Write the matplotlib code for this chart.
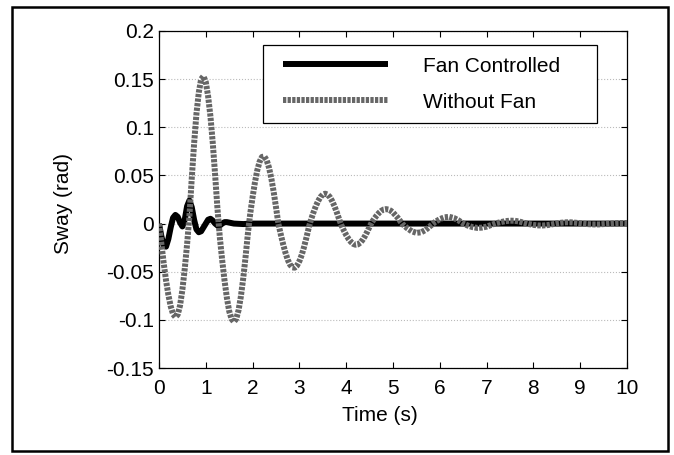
import numpy as np
import matplotlib
matplotlib.use("Agg")
import matplotlib.pyplot as plt
from matplotlib.patches import Rectangle
from matplotlib.lines import Line2D
from matplotlib.legend_handler import HandlerLine2D

plt.rcParams['font.family'] = ['Liberation Sans', 'DejaVu Sans']

# ---- data ----
t_fan = [0.00, 0.05, 0.10, 0.15, 0.20, 0.25, 0.30, 0.35, 0.40, 0.45,
         0.50, 0.55, 0.60, 0.65, 0.70, 0.75, 0.80, 0.85, 0.90, 0.95,
         1.00, 1.05, 1.10, 1.15, 1.20, 1.25, 1.30, 1.35, 1.40, 1.45,
         1.50, 1.60, 1.80, 2.00, 10.0]
sway_fan = [0.000, -0.013, -0.023, -0.024, -0.016, -0.004, 0.006, 0.009, 0.007, 0.001,
            -0.003, 0.004, 0.018, 0.024, 0.017, 0.004, -0.006, -0.009, -0.008, -0.004,
            0.000, 0.004, 0.005, 0.003, 0.000, -0.002, -0.002, 0.000, 0.0015, 0.0015,
            0.001, 0.000, -0.0005, 0.000, 0.000]

t_nofan = np.round(np.concatenate([np.arange(0, 101) * 0.05,
                                   5.0 + np.arange(1, 51) * 0.1]), 3)
sway_nofan = [
    0.0, -0.021, -0.041, -0.059, -0.074, -0.086, -0.094, -0.097,
    -0.0946, -0.085, -0.0686, -0.047, -0.0216, 0.008, 0.047, 0.083, 0.114, 0.136, 0.150, 0.153,
    0.147, 0.132, 0.111, 0.083, 0.050, 0.015, -0.0145, -0.038, -0.059, -0.077,
    -0.091, -0.099, -0.102, -0.099, -0.090, -0.0756, -0.0567, -0.0344, -0.010, 0.0106,
    0.0276, 0.0428, 0.0554, 0.0643, 0.0692, 0.0697, 0.0659, 0.0582, 0.047, 0.033,
    0.017, 0.0, -0.0108, -0.021, -0.030, -0.0375, -0.0427, -0.0455, -0.0458, -0.0436,
    -0.039, -0.0325, -0.0242, -0.0146, -0.0042, 0.0044, 0.0115, 0.018, 0.0234, 0.0276,
    0.0301, 0.031, 0.0301, 0.0276, 0.0234, 0.018, 0.0115, 0.0044, -0.0021, -0.0072,
    -0.0119, -0.0159, -0.019, -0.0211, -0.022, -0.0216, -0.0199, -0.017, -0.0131, -0.0084,
    -0.0032, 0.0015, 0.0051, 0.0083, 0.0111, 0.0132, 0.0146, 0.015, 0.0146, 0.0134,
    0.0115,
    0.0061, -0.0004, -0.0047, -0.008, -0.0096, -0.0091, -0.0065, -0.0024, 0.0017, 0.0046,
    0.0065, 0.007, 0.0058, 0.0033, 0.0, -0.0021, -0.0037, -0.0045, -0.0042, -0.0032,
    -0.0015, 0.0003, 0.0015, 0.0025, 0.003, 0.0029, 0.0021, 0.0008, -0.0005, -0.0014,
    -0.0019, -0.002, -0.0016, -0.0008, 0.0002, 0.0009, 0.0013, 0.0013, 0.0009, 0.0003,
    -0.0003, -0.0007, -0.0009, -0.0009, -0.0006, -0.0002, 0.0002, 0.0005, 0.0006, 0.0005]

x_ticks = list(range(0, 11))
y_ticks = [-0.15, -0.1, -0.05, 0, 0.05, 0.1, 0.15, 0.2]
y_tick_labels = ['-0.15', '-0.1', '-0.05', '0', '0.05', '0.1', '0.15', '0.2']
labels = ['Fan Controlled', 'Without Fan']

FS = 15

# ---- figure ----
fig = plt.figure(figsize=(6.74, 4.55), dpi=100)
ax = fig.add_axes([159 / 674, 1 - 368 / 455, (627 - 159) / 674, (368 - 31) / 455])

ax.plot(t_fan, sway_fan, color='black', lw=4.3, solid_capstyle='butt', label=labels[0], zorder=3)
ax.plot(t_nofan, sway_nofan, color='#666666', lw=4.3, linestyle=(0, (0.55, 0.22)),
        dash_capstyle='butt', label=labels[1], zorder=4)

ax.set_xlim(0, 10)
ax.set_ylim(-0.15, 0.2)
ax.set_xticks(x_ticks)
ax.set_xticklabels([str(v) for v in x_ticks])
ax.set_yticks(y_ticks)
ax.set_yticklabels(y_tick_labels)
ax.tick_params(direction='in', length=4, width=0.8, top=True, right=True, labelsize=FS)
ax.tick_params(axis='x', pad=8)
ax.tick_params(axis='y', pad=3.5)
ax.yaxis.grid(True, linestyle=':', color='#bbbbbb', lw=0.8)
ax.set_axisbelow(True)
for s in ax.spines.values():
    s.set_linewidth(0.9)

ax.set_xlabel('Time (s)', fontsize=FS)
ax.xaxis.set_label_coords((380 - 159) / 468, (368 - 406) / 337)
ax.set_ylabel('Sway (rad)', fontsize=FS)
ax.yaxis.set_label_coords((73 - 159) / 468, (368 - 203) / 337)

leg = ax.legend(loc='upper left', bbox_to_anchor=(104 / 468, (368 - 45) / 337, 334 / 468, 0.0),
                mode='expand', fontsize=FS, handlelength=5.45, handletextpad=1.68,
                labelspacing=0.82, borderpad=0.554, borderaxespad=0, fancybox=False,
                framealpha=1, edgecolor='black',
                handler_map={Line2D: HandlerLine2D(xpad=0.41)})
leg.get_frame().set_linewidth(0.9)

fig.patches.append(Rectangle((12 / 674, 1 - 451 / 455), (668 - 12) / 674, (451 - 7) / 455,
                             transform=fig.transFigure, fill=False, edgecolor='black',
                             lw=1.8, zorder=10))

fig.savefig('out.png', dpi=100)
